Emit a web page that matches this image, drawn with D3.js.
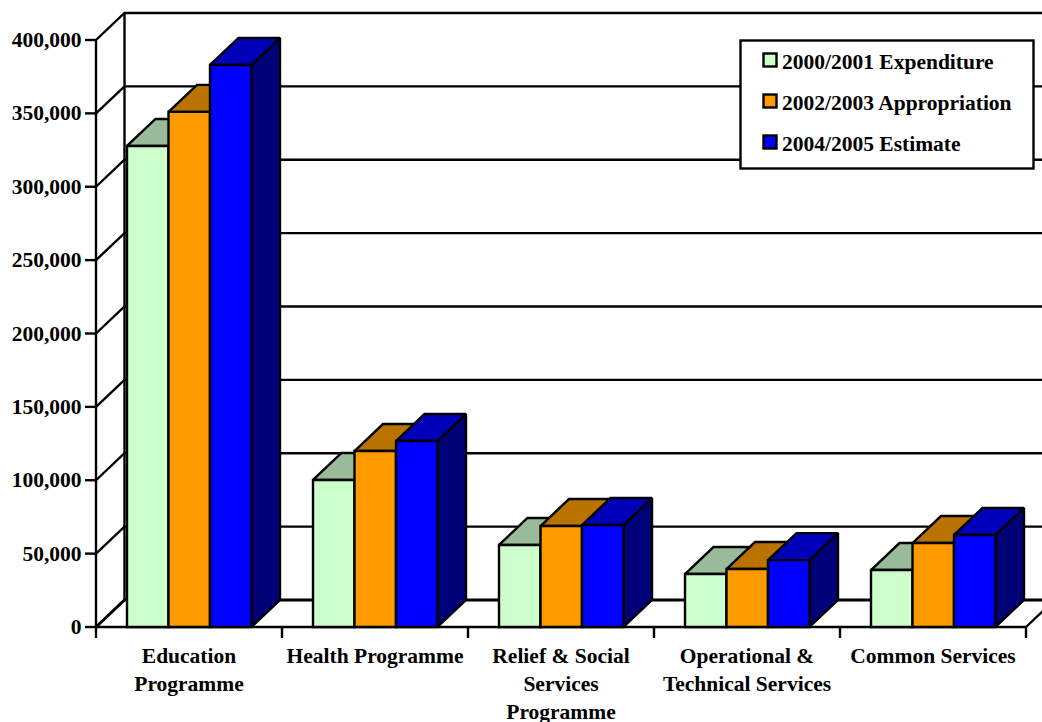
<!DOCTYPE html>
<html><head><meta charset="utf-8">
<script src="https://cdn.jsdelivr.net/npm/d3@7"></script>
<style>html,body{margin:0;padding:0;background:#fff}svg{display:block}text{font-family:"Liberation Serif","Times New Roman",serif;font-weight:bold;fill:#000}</style>
</head><body><svg id="c" width="1042" height="722"></svg>
<script>
const categories=[["Education","Programme"],["Health Programme"],["Relief & Social","Services","Programme"],["Operational &","Technical Services"],["Common Services"]];
const seriesNames=["2000/2001 Expenditure","2002/2003 Appropriation","2004/2005 Estimate"];
const expenditure=[327800,100200,55900,36100,38800];
const appropriation=[351000,119900,68800,39500,57200];
const estimate=[383000,126700,69500,45600,62700];
const tickValues=[0,50000,100000,150000,200000,250000,300000,350000,400000];
const frontColors=["#CCFFCC","#FF9900","#0000FF"];
const topColors=["#99BB99","#BB7300","#0000BB"];
const sideColors=["#668866","#804D00","#000077"];
const values=[expenditure,appropriation,estimate];

const svg=d3.select("#c");
const y=d3.scaleLinear().domain([0,400000]).range([627,40]);
const x=d3.scaleBand().domain(d3.range(categories.length)).range([96,1026]);
const inner=d3.scaleBand().domain(d3.range(3)).range([31,155.5]);
const dx=28.5,dy=-27;
const line=(pts,o)=>svg.append("path").attr("d","M"+pts.map(p=>p.join(",")).join("L")+(o.fill?"Z":""))
  .attr("fill",o.fill||"none").attr("stroke",o.stroke||"#000").attr("stroke-width",o.w||2.4).attr("stroke-linejoin","miter").attr("stroke-miterlimit",1.6);
const fmt=d3.format(",");
const X0=x.range()[0],X1=x.range()[1],Y0=y(0);

tickValues.forEach(v=>{
  line([[X0,y(v)],[X0+dx,y(v)+dy],[X1+dx,y(v)+dy]],{w:v===0?3:2.4});
});
line([[X0+dx,Y0+dy],[X0+dx,y(400000)+dy]],{w:2.4});
line([[X1,Y0],[X1+dx,Y0+dy]],{});
line([[X0,Y0],[X0,y(400000)]],{});
tickValues.forEach(v=>{
  line([[X0-11,y(v)],[X0,y(v)]],{});
  svg.append("text").attr("x",X0-14.5).attr("y",y(v)).attr("dy","0.33em").attr("text-anchor","end").attr("font-size",21.5).text(fmt(v));
});
line([[X0,Y0],[X1,Y0]],{});
d3.range(categories.length+1).forEach(i=>{
  const px=i<categories.length?x(i):X1;
  line([[px,Y0],[px,Y0+11]],{});
});
categories.forEach((lines,i)=>{
  const cx=x(i)+x.bandwidth()/2;
  lines.forEach((t,j)=>svg.append("text").attr("x",cx).attr("y",663+j*28).attr("text-anchor","middle").attr("font-size",21.5).text(t));
});
categories.forEach((_,i)=>{
  values.forEach((s,k)=>{
    const l=x(i)+inner(k),r=l+inner.bandwidth(),t=y(s[i]);
    line([[r,Y0],[r+dx,Y0+dy],[r+dx,t+dy],[r,t]],{fill:sideColors[k]});
    line([[l,t],[l+dx,t+dy],[r+dx,t+dy],[r,t]],{fill:topColors[k]});
    line([[l,Y0],[l,t],[r,t],[r,Y0]],{fill:frontColors[k]});
  });
});
svg.append("rect").attr("x",740.5).attr("y",40.5).attr("width",293).attr("height",128).attr("fill","#fff").attr("stroke","#000").attr("stroke-width",2.4);
seriesNames.forEach((n,k)=>{
  const cy=60+k*41;
  svg.append("rect").attr("x",763.5).attr("y",cy-6.5).attr("width",13).attr("height",13).attr("fill",frontColors[k]).attr("stroke","#000").attr("stroke-width",2.4);
  svg.append("text").attr("x",782).attr("y",cy+8.5).attr("font-size",21.5).text(n);
});
</script></body></html>
